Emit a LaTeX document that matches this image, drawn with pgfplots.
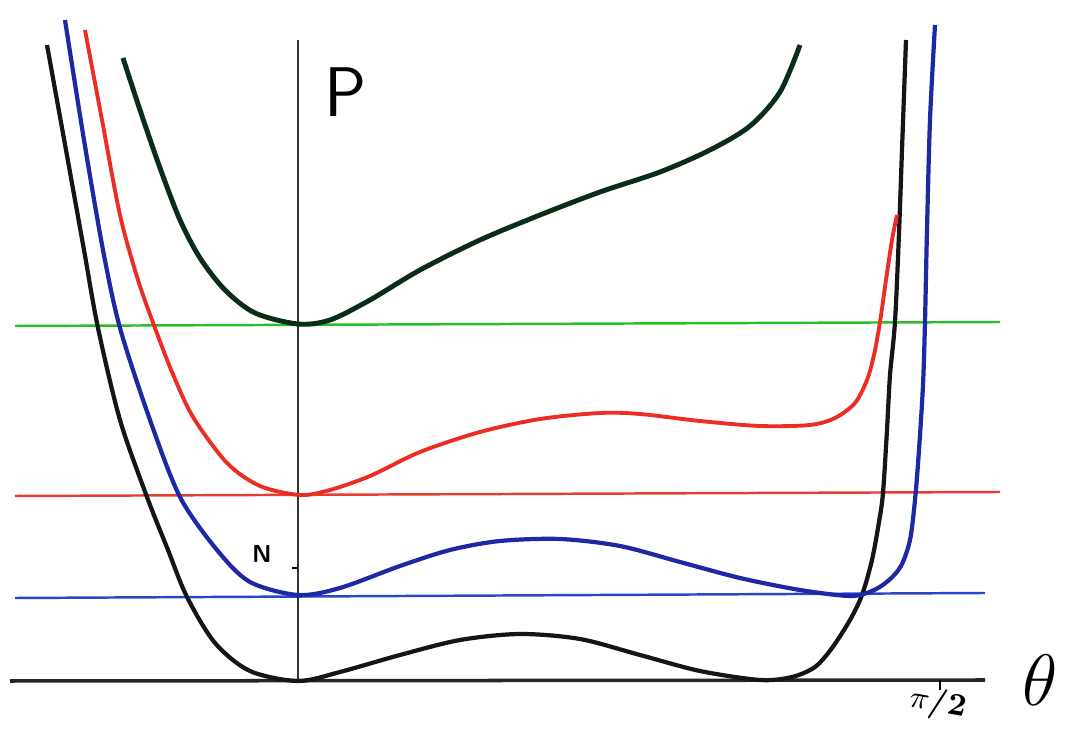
\documentclass[border=0pt]{standalone}
\usepackage{pgfplots}
\pgfplotsset{compat=1.18}
\begin{document}
\begin{tikzpicture}
\definecolor{cblack}{RGB}{20,20,25}
\definecolor{cblue}{RGB}{30,40,165}
\definecolor{cred}{RGB}{235,45,35}
\definecolor{cdkgreen}{RGB}{10,45,25}
\definecolor{lgreen}{RGB}{40,190,40}
\definecolor{lred}{RGB}{230,60,50}
\definecolor{lblue}{RGB}{40,70,200}
\begin{axis}[
  scale only axis, width=10.73cm, height=7.27cm,
  xmin=0, xmax=1073, ymin=-727, ymax=0,
  hide axis, clip=false,
]
\path (axis cs:0,0) rectangle (axis cs:1073,-727);
% horizontal reference lines
\addplot[lgreen, line width=0.7pt] coordinates {(15,-326) (1000,-322)};
\addplot[lred, line width=0.7pt] coordinates {(15,-496) (1000,-492)};
\addplot[lblue, line width=0.7pt] coordinates {(15,-598) (985,-593)};
% axes
\addplot[black!85, line width=1.0pt] coordinates {(10,-681) (985,-680)};
\addplot[black!80, line width=0.55pt] coordinates {(298,-40) (298,-681)};
\addplot[black, line width=0.6pt] coordinates {(940,-680) (940,-690)};
\addplot[black, line width=0.8pt] coordinates {(292,-568) (298,-568)};
% black curve
\addplot[cblack, line width=1.2pt, smooth, tension=0.5] coordinates {
(47,-45) (66,-150) (84,-250) (98,-328) (120,-420) (147,-497)
(168,-550) (187,-597) (215,-643) (250,-671) (298,-681)
(340,-672) (400,-655) (460,-640)
(520,-634) (580,-639) (640,-655) (700,-671) (760,-680) (792,-677)
(815,-667) (832,-648) (850,-620) (862,-595) (872,-560) (879,-522)
(883,-493) (887,-430) (890,-375) (895,-322) (899,-233) (902,-150) (906,-40)};
% blue curve
\addplot[cblue, line width=1.2pt, smooth, tension=0.5] coordinates {
(65,-20) (84,-140) (103,-250) (120,-328) (150,-420) (180,-497)
(217,-550) (250,-582) (298,-595) (340,-588) (400,-566) (450,-550) (500,-541)
(560,-539) (620,-546) (680,-562) (740,-578) (800,-590) (850,-596)
(872,-591) (888,-581) (901,-566) (910,-540) (915,-500) (919,-450)
(923,-385) (925,-322) (927,-230) (930,-120) (935,-25)};
% red curve
\addplot[cred, line width=1.1pt, smooth, tension=0.5] coordinates {
(85,-30) (102,-120) (120,-215) (138,-280) (155,-328) (172,-372) (193,-417)
(227,-463) (260,-486) (300,-495) (330,-490) (370,-476) (420,-452)
(480,-432) (540,-419) (600,-413) (640,-414) (700,-421) (760,-426)
(810,-425) (835,-418) (855,-403) (867,-380) (874,-355) (880,-322)
(886,-280) (892,-240) (897,-215)};
% dark green curve
\addplot[cdkgreen, line width=1.4pt, smooth, tension=0.5] coordinates {
(123,-58) (140,-110) (160,-168) (180,-220) (200,-258) (225,-290) (255,-313)
(298,-324) (330,-320) (370,-300) (420,-270) (480,-240)
(540,-215) (600,-192) (660,-172) (710,-150) (750,-126) (780,-92) (800,-45)};
% labels
\node[font=\sffamily\fontsize{20}{20}\selectfont] at (axis cs:346,-92) {P};
\node[font=\sffamily\bfseries\fontsize{7}{7}\selectfont] at (axis cs:262,-554) {N};
\node[font=\fontsize{22}{22}\selectfont] at (axis cs:1040,-680) {$\theta$};
\node[font=\bfseries\fontsize{9}{9}\selectfont, rotate=-10] at (axis cs:938,-704) {$\pi$/2};
\end{axis}
\end{tikzpicture}
\end{document}
